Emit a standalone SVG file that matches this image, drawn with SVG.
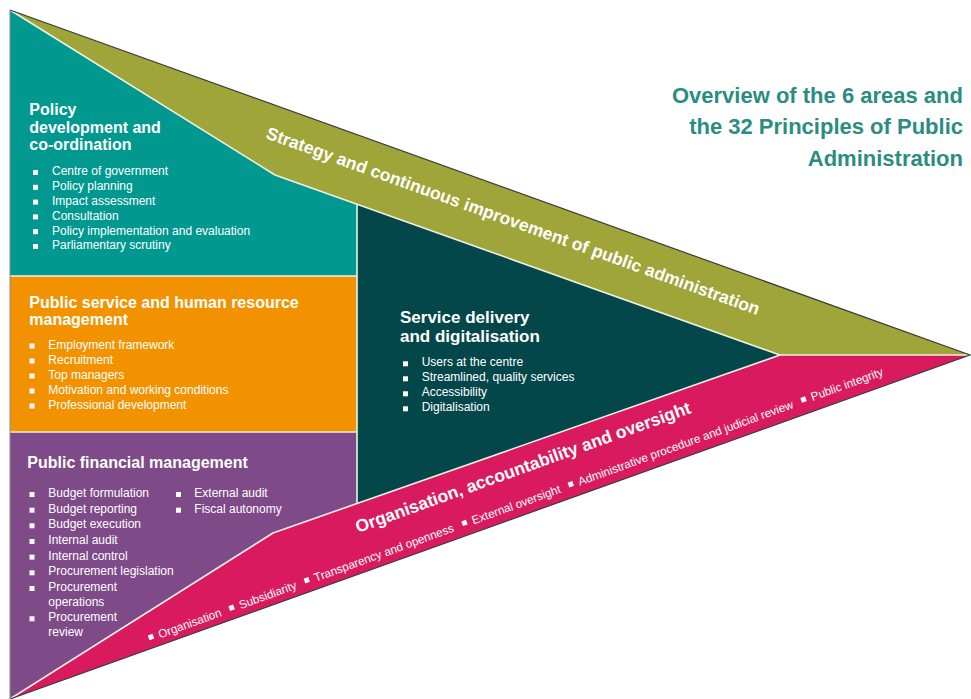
<svg xmlns="http://www.w3.org/2000/svg" width="971" height="699" viewBox="0 0 971 699">
  <style>
    .hd { font-family: "Liberation Sans", Arial, sans-serif; font-weight: bold; font-size: 16px; fill: #ffffff; }
    .li { font-family: "Liberation Sans", Arial, sans-serif; font-size: 12px; fill: #ffffff; }
    .band { font-family: "Liberation Sans", Arial, sans-serif; font-weight: bold; font-size: 17.5px; fill: #ffffff; }
    .sm { font-family: "Liberation Sans", Arial, sans-serif; font-size: 11.7px; fill: #ffffff; }
    .ttl { font-family: "Liberation Sans", Arial, sans-serif; font-weight: bold; font-size: 22px; fill: #2b8c81; }
    .dot { fill: #ffffff; }
    .div { fill: none; stroke: #eef2e4; stroke-width: 1.6; stroke-linejoin: round; }
    .edge { fill: none; stroke: #3a3a3a; stroke-width: 1.2; stroke-linejoin: miter; }
  </style>

  <!-- Title -->
  <g id="title">
    <text class="ttl" x="963" y="102.5" text-anchor="end">Overview of the 6 areas and</text>
    <text class="ttl" x="963" y="134" text-anchor="end">the 32 Principles of Public</text>
    <text class="ttl" x="963" y="165.8" text-anchor="end">Administration</text>
  </g>

  <!-- Policy development and co-ordination -->
  <g id="area-policy">
    <polygon points="10,10 275,175 357,204 357,276 10,276" fill="#00988f"/>
    <text class="hd" x="29.3" y="115">Policy</text>
    <text class="hd" x="29.3" y="132.5">development and</text>
    <text class="hd" x="29.3" y="150">co-ordination</text>
    <rect class="dot" x="33" y="170" width="5" height="5"/>
    <rect class="dot" x="33" y="184.8" width="5" height="5"/>
    <rect class="dot" x="33" y="199.6" width="5" height="5"/>
    <rect class="dot" x="33" y="214.4" width="5" height="5"/>
    <rect class="dot" x="33" y="229.2" width="5" height="5"/>
    <rect class="dot" x="33" y="244" width="5" height="5"/>
    <text class="li" x="52" y="175.3">Centre of government</text>
    <text class="li" x="52" y="190.1">Policy planning</text>
    <text class="li" x="52" y="204.9">Impact assessment</text>
    <text class="li" x="52" y="219.7">Consultation</text>
    <text class="li" x="52" y="234.5">Policy implementation and evaluation</text>
    <text class="li" x="52" y="249.3">Parliamentary scrutiny</text>
  </g>

  <!-- Public service and human resource management -->
  <g id="area-hrm">
    <rect x="10" y="276" width="347" height="156" fill="#f39200"/>
    <text class="hd" x="29.3" y="307.5">Public service and human resource</text>
    <text class="hd" x="29.3" y="325">management</text>
    <rect class="dot" x="29.5" y="343.5" width="5" height="5"/>
    <rect class="dot" x="29.5" y="358.5" width="5" height="5"/>
    <rect class="dot" x="29.5" y="373.5" width="5" height="5"/>
    <rect class="dot" x="29.5" y="388.5" width="5" height="5"/>
    <rect class="dot" x="29.5" y="403.5" width="5" height="5"/>
    <text class="li" x="48.3" y="348.5">Employment framework</text>
    <text class="li" x="48.3" y="363.5">Recruitment</text>
    <text class="li" x="48.3" y="378.5">Top managers</text>
    <text class="li" x="48.3" y="393.5">Motivation and working conditions</text>
    <text class="li" x="48.3" y="408.5">Professional development</text>
  </g>

  <!-- Public financial management -->
  <g id="area-pfm">
    <polygon points="10,432 357,432 357,504 273,533 10,699" fill="#7e4a88"/>
    <text class="hd" x="27.3" y="467.5">Public financial management</text>
    <rect class="dot" x="29.5" y="492" width="5" height="5"/>
    <rect class="dot" x="29.5" y="507.7" width="5" height="5"/>
    <rect class="dot" x="29.5" y="523.3" width="5" height="5"/>
    <rect class="dot" x="29.5" y="539" width="5" height="5"/>
    <rect class="dot" x="29.5" y="554.6" width="5" height="5"/>
    <rect class="dot" x="29.5" y="570.3" width="5" height="5"/>
    <rect class="dot" x="29.5" y="586" width="5" height="5"/>
    <rect class="dot" x="29.5" y="616.3" width="5" height="5"/>
    <text class="li" x="48.3" y="497">Budget formulation</text>
    <text class="li" x="48.3" y="512.7">Budget reporting</text>
    <text class="li" x="48.3" y="528.3">Budget execution</text>
    <text class="li" x="48.3" y="544">Internal audit</text>
    <text class="li" x="48.3" y="559.6">Internal control</text>
    <text class="li" x="48.3" y="575.3">Procurement legislation</text>
    <text class="li" x="48.3" y="591">Procurement</text>
    <text class="li" x="48.3" y="605.5">operations</text>
    <text class="li" x="48.3" y="621.3">Procurement</text>
    <text class="li" x="48.3" y="635.8">review</text>
    <rect class="dot" x="176" y="492" width="5" height="5"/>
    <rect class="dot" x="176" y="507.7" width="5" height="5"/>
    <text class="li" x="194.3" y="497">External audit</text>
    <text class="li" x="194.3" y="512.7">Fiscal autonomy</text>
  </g>

  <!-- Service delivery and digitalisation -->
  <g id="area-service">
    <polygon points="357,204 780,355 357,504" fill="#03474b"/>
    <text class="hd" x="400" y="323.2" style="font-size:17px">Service delivery</text>
    <text class="hd" x="400" y="341.5" style="font-size:17px">and digitalisation</text>
    <rect class="dot" x="403" y="361.3" width="5" height="5"/>
    <rect class="dot" x="403" y="376.3" width="5" height="5"/>
    <rect class="dot" x="403" y="391.3" width="5" height="5"/>
    <rect class="dot" x="403" y="406.3" width="5" height="5"/>
    <text class="li" x="421.7" y="366.3">Users at the centre</text>
    <text class="li" x="421.7" y="381.3">Streamlined, quality services</text>
    <text class="li" x="421.7" y="396.3">Accessibility</text>
    <text class="li" x="421.7" y="411.3">Digitalisation</text>
  </g>

  <!-- Strategy band along the upper edge -->
  <g id="band-strategy">
    <polygon points="10,10 970,355 780,355 275,175" fill="#9fa538"/>
    <text class="band" transform="translate(265,138) rotate(19.8)">Strategy and continuous improvement of public administration</text>
  </g>

  <!-- Accountability band along the lower edge -->
  <g id="band-accountability">
    <polygon points="10,699 273,533 780,355 970,355" fill="#da1a5e"/>
    <text class="band" transform="translate(358,533) rotate(-19.8)">Organisation, accountability and oversight</text>
    <g transform="translate(150.2,642.1) rotate(-20)">
      <rect class="dot" x="0" y="-7" width="5" height="5"/>
      <text class="sm" x="10.5" y="0">Organisation</text>
      <rect class="dot" x="85.8" y="-7" width="5" height="5"/>
      <text class="sm" x="96.3" y="0">Subsidiarity</text>
      <rect class="dot" x="165.8" y="-7" width="5" height="5"/>
      <text class="sm" x="176.3" y="0">Transparency and openness</text>
      <rect class="dot" x="333.6" y="-7" width="5" height="5"/>
      <text class="sm" x="344.1" y="0">External oversight</text>
      <rect class="dot" x="446.7" y="-7" width="5" height="5"/>
      <text class="sm" x="457.2" y="0">Administrative procedure and judicial review</text>
      <rect class="dot" x="694.4" y="-7" width="5" height="5"/>
      <text class="sm" x="704.9" y="0">Public integrity</text>
    </g>
  </g>

  <!-- Dividing lines between the areas and the outline -->
  <g id="connectors">
    <polyline class="div" points="10,10 275,175 780,355 970,355"/>
    <polyline class="div" points="10,699 273,533 780,355"/>
    <line class="div" x1="357" y1="204" x2="357" y2="504"/>
    <line class="div" x1="10" y1="276" x2="357" y2="276"/>
    <line class="div" x1="10" y1="432" x2="357" y2="432"/>
    <polyline class="edge" points="10,10 970,355 10,699"/>
    <line x1="10" y1="10" x2="10" y2="699" stroke="#8a8a8a" stroke-width="1"/>
  </g>
</svg>
